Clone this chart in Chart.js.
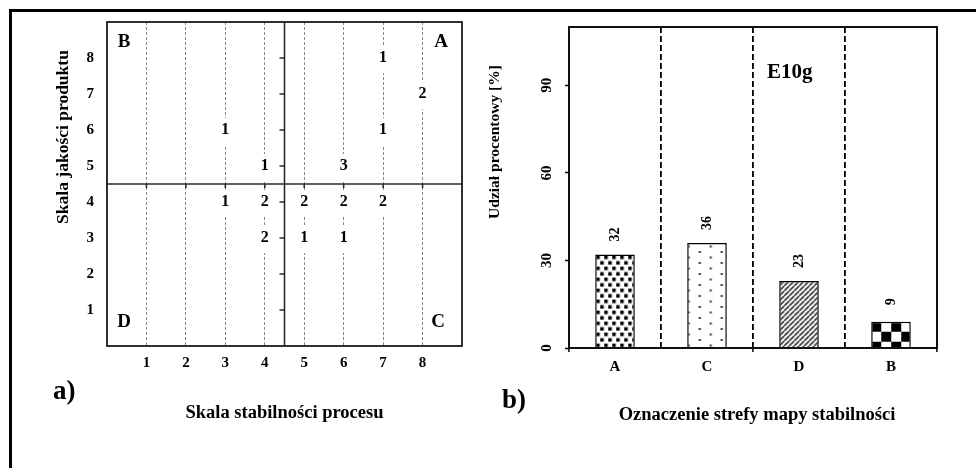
<!DOCTYPE html>
<html>
<head>
<meta charset="utf-8">
<script src="https://cdn.jsdelivr.net/npm/chart.js@4/dist/chart.umd.min.js"></script>
<style>
  html, body { margin: 0; padding: 0; background: #fff; }
  #wrap { position: relative; width: 976px; height: 468px; overflow: hidden; }
  #wrap canvas { position: absolute; left: 0; top: 0; }
</style>
</head>
<body>
<div id="wrap">
  <canvas id="mapChart" width="976" height="468"></canvas>
  <canvas id="shareChart" width="976" height="468"></canvas>
</div>
<script>
// a) stability map: number of products in each (process stability, product quality) cell
const stabilityScores = [3, 4, 6, 7, 8, 7, 3, 4, 5, 6, 7, 4, 5, 6];
const qualityScores   = [6, 5, 5, 8, 7, 6, 4, 4, 4, 4, 4, 3, 3, 3];
const productCounts   = [1, 1, 3, 1, 2, 1, 1, 2, 2, 2, 2, 2, 1, 1];
const scaleTicks      = [1, 2, 3, 4, 5, 6, 7, 8];
const zoneSplit       = 4.5;

// b) share of products per stability-map zone
const zoneLabels = ['A', 'C', 'D', 'B'];
const zoneShares = [32, 36, 23, 9];
const shareTicks = [0, 30, 60, 90];

const SERIF = "'Liberation Serif', 'Times New Roman', serif";
Chart.defaults.font.family = SERIF;
Chart.defaults.font.weight = 'bold';
Chart.defaults.color = '#000';

const font = (size) => `bold ${size}px ${SERIF}`;

function rotatedText(ctx, text, x, y) {
  ctx.save();
  ctx.translate(x, y);
  ctx.rotate(-Math.PI / 2);
  ctx.textAlign = 'center';
  ctx.textBaseline = 'middle';
  ctx.fillText(text, 0, 0);
  ctx.restore();
}

// ---------- fill patterns for the zone bars ----------
function makeTile(w, h, paint) {
  const c = document.createElement('canvas');
  c.width = w; c.height = h;
  const g = c.getContext('2d');
  g.fillStyle = '#fff';
  g.fillRect(0, 0, w, h);
  paint(g);
  return c.getContext('2d').createPattern(c, 'repeat');
}
const patternSquares = makeTile(8, 11, g => {
  g.fillStyle = '#000';
  g.fillRect(1, 1, 3.5, 3.5);
  g.fillRect(5, 6.5, 3, 3.5);
  g.fillRect(0, 6.5, 0.5, 3.5);
});
const patternDots = makeTile(22, 11, g => {
  g.fillStyle = '#333';
  g.fillRect(0.5, 2.5, 2, 2);
  g.fillRect(11.5, 8, 2, 2);
});
const patternStripes = makeTile(5, 5, g => {
  g.strokeStyle = '#3a3a3a';
  g.lineWidth = 1.7;
  g.beginPath();
  for (const k of [-5, 0, 5]) { g.moveTo(k, 5); g.lineTo(k + 5, 0); }
  g.stroke();
});
const patternChecks = makeTile(20, 20, g => {
  g.fillStyle = '#000';
  g.fillRect(0, 0, 10, 10);
  g.fillRect(10, 10, 10, 10);
});
const zonePatterns = [patternSquares, patternDots, patternStripes, patternChecks];

// ---------- a) stability map ----------
const mapDecor = {
  id: 'mapDecor',
  afterDatasetsDraw(chart) {
    const { ctx, chartArea: a, scales: { x, y } } = chart;
    const meta = chart.getDatasetMeta(0);
    ctx.save();

    // page frame
    ctx.fillStyle = '#000';
    ctx.fillRect(9, 9, 967, 3);
    ctx.fillRect(9, 9, 3, 459);

    // counts with a white box that interrupts the grid lines
    ctx.font = font(16);
    ctx.textAlign = 'center';
    ctx.textBaseline = 'middle';
    meta.data.forEach((pt, i) => {
      ctx.fillStyle = '#fff';
      ctx.fillRect(pt.x - 7, pt.y - 12, 14, 27);
      ctx.fillStyle = '#000';
      ctx.fillText(String(productCounts[i]), pt.x, pt.y);
    });

    // zone dividers with their tick marks
    const mx = x.getPixelForValue(zoneSplit);
    const my = y.getPixelForValue(zoneSplit);
    ctx.strokeStyle = '#2b2b2b';
    ctx.lineWidth = 1.6;
    ctx.beginPath();
    ctx.moveTo(mx, a.top); ctx.lineTo(mx, a.bottom);
    ctx.moveTo(a.left, my); ctx.lineTo(a.right, my);
    scaleTicks.forEach(v => {
      const ty = y.getPixelForValue(v);
      ctx.moveTo(mx - 5, ty); ctx.lineTo(mx, ty);
      const tx = x.getPixelForValue(v);
      ctx.moveTo(tx, my); ctx.lineTo(tx, my + 4);
    });
    ctx.stroke();

    // plot frame
    ctx.strokeStyle = '#1a1a1a';
    ctx.lineWidth = 1.8;
    ctx.strokeRect(a.left, a.top, a.right - a.left, a.bottom - a.top);

    // zone letters
    ctx.fillStyle = '#000';
    ctx.font = font(19);
    ctx.textBaseline = 'alphabetic';
    ctx.textAlign = 'center';
    ctx.fillText('B', a.left + 17, a.top + 25);
    ctx.fillText('A', a.right - 21, a.top + 25);
    ctx.fillText('D', a.left + 17, a.bottom - 19);
    ctx.fillText('C', a.right - 24, a.bottom - 19);

    // axis titles and panel tag
    ctx.font = font(18.5);
    ctx.fillText('Skala stabilności procesu', (a.left + a.right) / 2, 418);
    ctx.font = font(17.5);
    rotatedText(ctx, 'Skala jakości produktu', 63, 137);
    ctx.font = font(27);
    ctx.textAlign = 'left';
    ctx.fillText('a)', 53, 399);
    ctx.restore();
  }
};

new Chart(document.getElementById('mapChart'), {
  type: 'scatter',
  data: {
    datasets: [{
      data: stabilityScores.map((s, i) => ({ x: s, y: qualityScores[i] })),
      pointRadius: 0,
      pointHoverRadius: 0
    }]
  },
  options: {
    responsive: false,
    animation: false,
    devicePixelRatio: 1,
    layout: { padding: { left: 0, right: 514, top: 22, bottom: 0 } },
    plugins: { legend: { display: false }, tooltip: { enabled: false } },
    scales: {
      x: {
        type: 'linear', min: 0, max: 9,
        afterBuildTicks: s => { s.ticks = scaleTicks.map(v => ({ value: v })); },
        afterFit: s => { s.height = 122; },
        grid: { color: '#8a8a8a', lineWidth: 1, drawTicks: false, borderDash: [3, 2] },
        border: { display: false, dash: [3, 2] },
        ticks: { font: { size: 15, weight: 'bold' }, padding: 8, maxRotation: 0 }
      },
      y: {
        type: 'linear', min: 0, max: 9,
        afterBuildTicks: s => { s.ticks = scaleTicks.map(v => ({ value: v })); },
        afterFit: s => { s.width = 107; },
        grid: { display: false, drawTicks: false },
        border: { display: false },
        ticks: { font: { size: 15, weight: 'bold' }, padding: 13 }
      }
    }
  },
  plugins: [mapDecor]
});

// ---------- b) share per zone ----------
const transparent = 'rgba(0,0,0,0)';
const shareDecor = {
  id: 'shareDecor',
  beforeDatasetsDraw(chart) {
    // anchor each fill pattern at its bar's top-left corner
    chart.getDatasetMeta(0).data.forEach((bar, i) => {
      zonePatterns[i].setTransform(new DOMMatrix([1, 0, 0, 1, bar.x - bar.width / 2, bar.y]));
    });
  },
  afterDatasetsDraw(chart) {
    const { ctx, chartArea: a, scales: { y } } = chart;
    ctx.save();
    ctx.strokeStyle = '#111';
    ctx.lineWidth = 2;
    ctx.strokeRect(a.left, a.top, a.right - a.left, a.bottom - a.top);

    ctx.fillStyle = '#000';
    ctx.font = font(15);
    shareTicks.forEach(v => rotatedText(ctx, String(v), a.left - 22, y.getPixelForValue(v)));

    ctx.font = font(14);
    chart.getDatasetMeta(0).data.forEach((bar, i) => {
      rotatedText(ctx, String(zoneShares[i]), bar.x, bar.y - 20);
    });

    ctx.font = font(15.5);
    rotatedText(ctx, 'Udział procentowy [%]', 495, 142);

    ctx.textBaseline = 'alphabetic';
    ctx.textAlign = 'left';
    ctx.font = font(21);
    ctx.fillText('E10g', 767, 78);
    ctx.font = font(27);
    ctx.fillText('b)', 502, 408);
    ctx.textAlign = 'center';
    ctx.font = font(18.5);
    ctx.fillText('Oznaczenie strefy mapy stabilności', 757, 420);
    ctx.restore();
  }
};

new Chart(document.getElementById('shareChart'), {
  type: 'bar',
  data: {
    labels: zoneLabels,
    datasets: [{
      data: zoneShares,
      backgroundColor: zonePatterns,
      borderColor: '#000',
      borderWidth: 1.5,
      barPercentage: 0.43,
      categoryPercentage: 1
    }]
  },
  options: {
    responsive: false,
    animation: false,
    devicePixelRatio: 1,
    layout: { padding: { left: 529, right: 39, top: 27, bottom: 0 } },
    plugins: { legend: { display: false }, tooltip: { enabled: false } },
    scales: {
      x: {
        type: 'category',
        afterFit: s => { s.height = 120; },
        grid: {
          offset: true,
          lineWidth: 1.8,
          color: c => (c.index >= 1 && c.index <= 3) ? '#000' : transparent,
          drawTicks: true,
          tickLength: 4,
          tickWidth: 1.5,
          tickColor: c => (c.index === 0 || c.index === 2 || c.index === undefined) ? '#000' : transparent,
          borderDash: [6, 3]
        },
        border: { display: false, dash: [6, 3] },
        ticks: { font: { size: 15, weight: 'bold' }, padding: 6, maxRotation: 0 }
      },
      y: {
        type: 'linear', min: 0, max: 110,
        afterBuildTicks: s => { s.ticks = shareTicks.map(v => ({ value: v })); },
        afterFit: s => { s.width = 40; },
        grid: { display: true, drawOnChartArea: false, drawTicks: true, tickLength: 4, tickWidth: 1.5, tickColor: '#000' },
        border: { display: false },
        ticks: { display: false }
      }
    }
  },
  plugins: [shareDecor]
});
</script>
</body>
</html>
